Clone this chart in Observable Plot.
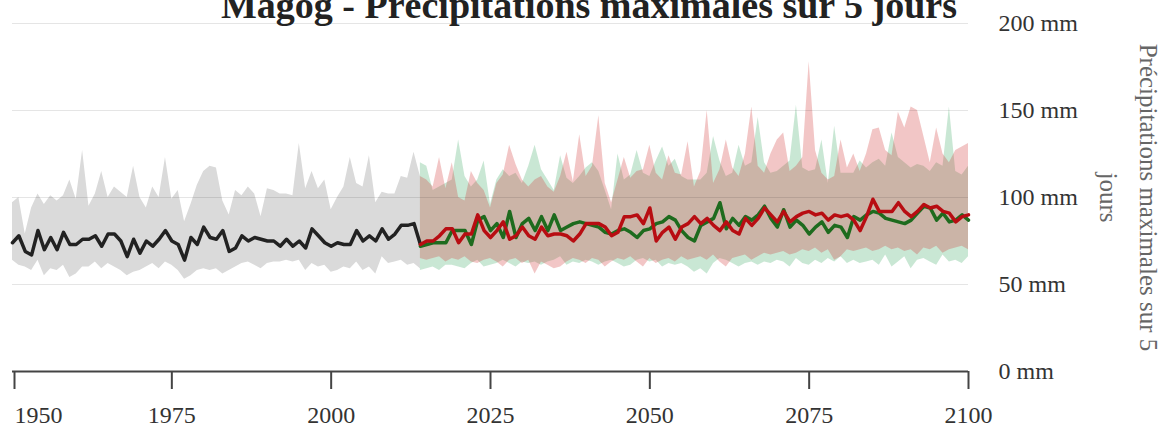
<!DOCTYPE html>
<html>
<head>
<meta charset="utf-8">
<script src="https://cdn.jsdelivr.net/npm/d3@7"></script>
<script src="https://cdn.jsdelivr.net/npm/@observablehq/plot@0.6"></script>
<style>
  html, body { margin: 0; padding: 0; background: #fff; }
  #wrap { position: relative; width: 1163px; height: 429px; overflow: hidden; }
  #title { position: absolute; top: -14px; left: 589px; transform: translateX(-50%);
    font-family: "Liberation Serif", "Times New Roman", serif; font-weight: bold;
    font-size: 38px; line-height: 38px; color: #222; white-space: nowrap; }
  svg { display: block; }
</style>
</head>
<body>
<div id="wrap"><div id="title">Magog - Précipitations maximales sur 5 jours</div></div>
<script>
const titleText = "Magog - Précipitations maximales sur 5 jours";
const yLabel = "Précipitations maximales sur 5\njours";
const xTicks = [1950, 1975, 2000, 2025, 2050, 2075, 2100];
const yTicks = [0, 50, 100, 150, 200];
const unit = " mm";

// Historical (1950–2014)
const histStart = 1950;
const histLine = [74,78,69,67,81,70,77,70,80,73,73,76,76,78,72,79,79,75,66,76,68,75,72,76,81,75,73,64,77,73,83,77,76,
  81,69,71,78,75,77,76,75,75,72,76,72,75,71,82,78,74,72,74,73,73,81,75,78,75,82,76,79,84,84,85,73];
const histUpper = [97,100,79,94,102,96,101,98,101,110,99,127,95,102,115,100,106,103,100,118,100,94,106,100,123,99,104,86,96,107,115,118,117,
  98,90,104,101,106,102,89,105,104,102,102,101,131,105,115,105,110,93,100,106,123,108,106,124,97,103,102,102,112,111,126,112];
const histLower = [64,61,60,58,64,55,59,58,61,54,56,60,60,63,59,62,60,58,55,57,58,60,62,59,63,61,58,53,55,58,59,58,59,
  56,58,60,62,63,61,59,62,63,63,64,63,64,58,62,60,61,57,58,60,59,63,58,60,56,66,62,63,64,61,62,59];

// Projections (2014–2100)
const projStart = 2014;
const redLine = [73,75,75,78,82,82,74,79,79,90,
  81,77,81,86,76,78,83,78,76,83,
  78,79,79,78,75,79,85,85,85,83,
  78,80,89,89,90,85,94,75,80,83,
  76,83,85,89,85,88,84,81,86,81,
  79,88,84,88,94,90,86,92,86,89,
  91,92,90,91,87,90,89,90,87,81,
  89,99,92,92,92,97,92,89,92,96,
  94,95,92,91,86,89,90];
const greenLine = [72,73,74,74,74,81,81,81,73,87,
  89,81,85,77,92,77,85,88,81,89,
  81,90,81,83,85,86,85,84,83,80,
  79,81,82,80,77,81,82,85,86,89,
  87,81,77,75,84,86,88,97,82,88,
  84,89,87,90,95,88,83,93,83,87,
  84,79,83,86,80,84,83,77,89,87,
  90,92,91,88,87,86,85,87,91,95,
  94,87,91,86,87,90,87];
const redUpper = [112,110,106,123,105,120,100,98,115,108,
  104,94,108,113,130,119,110,106,110,112,
  106,103,112,126,109,136,112,118,147,108,
  97,110,123,111,115,116,130,114,110,124,
  114,113,132,106,115,150,108,116,133,117,
  112,125,152,118,114,125,133,137,115,118,
  123,178,127,114,110,112,133,117,125,115,
  125,139,140,127,124,149,140,152,150,135,
  120,140,125,120,127,129,131];
const greenUpper = [120,118,104,106,108,110,133,112,106,110,
  121,96,110,116,112,114,108,118,130,116,
  110,104,124,111,108,112,117,120,115,104,
  93,125,110,113,127,114,112,121,129,118,
  122,112,110,110,110,114,135,121,112,114,
  130,118,120,146,120,114,115,118,121,153,
  117,115,116,133,108,141,114,114,114,121,
  117,120,122,118,137,123,120,117,119,118,
  115,120,118,152,115,113,118];
const redLower = [65,64,65,66,63,65,64,66,63,62,
  64,65,63,60,64,65,62,64,56,63,
  61,59,60,63,65,64,62,65,64,60,
  63,65,64,66,63,60,65,62,64,65,
  63,66,64,65,66,64,67,63,60,65,
  66,67,64,66,68,67,68,69,67,68,
  70,69,71,68,70,64,66,70,69,70,
  71,69,70,72,70,71,69,70,67,71,
  70,72,68,70,71,72,70];
const greenLower = [58,59,60,58,61,61,60,59,62,64,
  60,61,62,64,62,60,63,62,63,61,
  63,64,66,61,63,62,64,63,61,63,
  64,62,60,61,64,65,63,64,60,62,
  61,62,60,57,59,56,62,65,64,62,
  60,62,63,61,63,62,64,63,60,65,
  62,61,64,62,65,63,66,62,64,62,
  63,64,61,67,60,63,66,59,64,65,
  63,61,67,63,64,62,66];

const hist = histLine.map((v, i) => ({year: histStart + i, v, lo: histLower[i], hi: histUpper[i]}));
const proj = redLine.map((r, i) => ({year: projStart + i, red: r, green: greenLine[i],
  rLo: redLower[i], rHi: redUpper[i], gLo: greenLower[i], gHi: greenUpper[i]}));

const serif = "Liberation Serif, Times New Roman, serif";

const chart = Plot.plot({
  width: 1163,
  height: 429,
  marginLeft: 12,
  marginRight: 195,
  marginTop: 23,
  marginBottom: 58,
  style: {fontFamily: serif, fontSize: "24px", color: "#333", background: "#fff"},
  x: {domain: [1950, 2100]},
  y: {domain: [0, 200]},
  marks: [
    Plot.areaY(hist, {x: "year", y1: "lo", y2: "hi", fill: "#dadada"}),
    Plot.areaY(proj, {x: "year", y1: "gLo", y2: "gHi", fill: "rgb(60,170,100)", fillOpacity: 0.28}),
    Plot.areaY(proj, {x: "year", y1: "rLo", y2: "rHi", fill: "rgb(210,50,50)", fillOpacity: 0.28}),
    Plot.ruleY(yTicks.filter(d => d > 0), {stroke: "#000", strokeOpacity: 0.1, strokeWidth: 1.2}),
    Plot.lineY(hist, {x: "year", y: "v", stroke: "#222", strokeWidth: 3.5, strokeLinejoin: "round"}),
    Plot.lineY(proj, {x: "year", y: "green", stroke: "#1e6b1e", strokeWidth: 3.5, strokeLinejoin: "round"}),
    Plot.lineY(proj, {x: "year", y: "red", stroke: "#b80d12", strokeWidth: 3.5, strokeLinejoin: "round"}),
    Plot.ruleY([0], {stroke: "#444", strokeWidth: 2}),
    Plot.axisX(xTicks.slice(1), {tickSize: 18, tickPadding: 16, tickFormat: d => String(d),
      fontSize: 24, stroke: "#444", strokeWidth: 2, label: null}),
    Plot.axisX(xTicks.slice(0, 1), {tickSize: 18, tickPadding: 16, tickFormat: d => String(d),
      fontSize: 24, stroke: "#444", strokeWidth: 2, textAnchor: "start", dx: 2, label: null}),
    Plot.axisY(yTicks, {anchor: "right", tickSize: 0, tickPadding: 30, tickFormat: d => d + unit,
      fontSize: 24, label: null}),
    Plot.text([yLabel], {frameAnchor: "right", text: d => d, rotate: 90, dx: 164, textAnchor: "middle",
      fontSize: 25, fill: "#666", lineHeight: 1.6})
  ]
});
document.getElementById("wrap").appendChild(chart);
</script>
</body>
</html>
